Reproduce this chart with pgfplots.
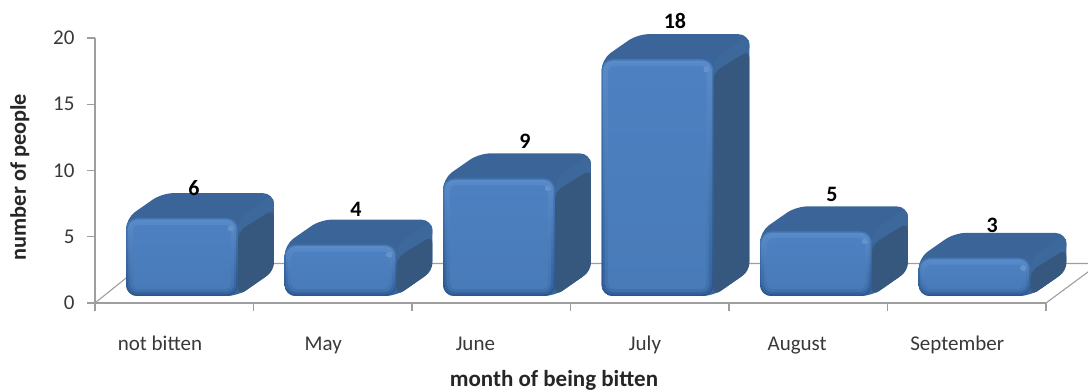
\documentclass[border=0pt]{standalone}
\usepackage{pgfplots}
\usepackage{pgfplotstable}
\usepackage{fontspec}
\setmainfont{Carlito}
\pgfplotsset{compat=1.18}

\definecolor{wallgray}{HTML}{9E9E9E}
\definecolor{topface}{HTML}{3B6599}
\definecolor{sideface}{HTML}{36587F}
\definecolor{edgeband}{HTML}{3C689B}
\definecolor{rimtop}{HTML}{4478B5}
\definecolor{rimlow}{HTML}{2B568D}
\definecolor{glowtop}{HTML}{5A8CC9}
\definecolor{glowlow}{HTML}{33629C}
\definecolor{softtop}{HTML}{5789C7}
\definecolor{softlow}{HTML}{4171AD}
\definecolor{coretop}{HTML}{4C80C0}
\definecolor{corelow}{HTML}{497BB9}
\definecolor{sparkle}{HTML}{6493CC}

% months, bar values and where each value label sits
\pgfplotstableread{
pos v   lx    ly
0   6   0.625 8.68
1   4   1.647 7.09
2   9   2.713 12.23
3   18  3.659 21.28
4   5   4.650 8.23
5   3   5.660 5.89
}\bites

% one rounded rectangle, inset from the front face of a block
\newcommand{\frontlayer}[6]{% left, right, bottom, top, inset in px, options
  \pgfmathsetmacro{\la}{#1+#5/158.5}
  \pgfmathsetmacro{\lb}{#2-#5/158.5}
  \pgfmathsetmacro{\lc}{#3+#5/13.25}
  \pgfmathsetmacro{\ld}{#4-#5/13.25}
  \pgfmathsetmacro{\lm}{(\la+\lb)/2}
  \addplot[draw=none,#6] coordinates {(\lm,\lc) (\lb,\lc) (\lb,\ld) (\la,\ld) (\la,\lc)} -- cycle;
}

% a block of the chart: position and value
\newcommand{\block}[2]{%
  \pgfmathsetmacro{\xa}{#1+0.196}
  \pgfmathsetmacro{\xb}{#1+0.902}
  \pgfmathsetmacro{\ya}{0.53}
  \pgfmathsetmacro{\yb}{#2+0.4}
  \pgfmathsetmacro{\xc}{\xa+0.227}
  \pgfmathsetmacro{\xd}{\xb+0.227}
  \pgfmathsetmacro{\yc}{\ya+1.89}
  \pgfmathsetmacro{\yd}{\yb+1.89}
  \pgfmathsetmacro{\bandfront}{\yb-1.5}
  \pgfmathsetmacro{\bandback}{\yd-1.7}
  \pgfmathsetmacro{\sidefront}{\yb-1.0}
  \pgfmathsetmacro{\sideback}{\yd-1.2}
  \pgfmathsetmacro{\hx}{\xb-0.045}
  \pgfmathsetmacro{\hy}{\yb-0.75}
  % outline of the top and right faces
  \addplot[draw=none,fill=topface,rounded corners=11pt] coordinates
    {(\xa,\yb) (\xc,\yd) (\xd,\yd) (\xd,\yc) (\xb,\ya) (\xa,\ya)} -- cycle;
  % right face, with a lighter band along its upper edge
  \addplot[draw=none,fill=edgeband,rounded corners=10pt] coordinates
    {(\xb,\yb) (\xd,\yd) (\xd,\bandback) (\xb,\bandfront)} -- cycle;
  \addplot[draw=none,fill=sideface,rounded corners=8pt] coordinates
    {(\xb,\sidefront) (\xd,\sideback) (\xd,\yc) (\xb,\ya)} -- cycle;
  % front face, built up from its edge towards the centre
  \frontlayer{\xa}{\xb}{\ya}{\yb}{0}{top color=rimtop,bottom color=rimlow,rounded corners=11pt}
  \frontlayer{\xa}{\xb}{\ya}{\yb}{1.5}{top color=glowtop,bottom color=glowlow,rounded corners=10pt}
  \frontlayer{\xa}{\xb}{\ya}{\yb}{4}{top color=softtop,bottom color=softlow,rounded corners=8pt}
  \frontlayer{\xa}{\xb}{\ya}{\yb}{7}{top color=coretop,bottom color=corelow,rounded corners=5pt}
  % small highlight at the upper right corner
  \addplot[only marks,mark=*,mark size=2.5pt,mark options={draw=sparkle,fill=sparkle,line width=0pt}] coordinates {(\hx,\hy)};
}

\begin{document}
\begin{tikzpicture}[x=1pt,y=1pt]
\useasboundingbox (0,0) rectangle (1088,391);
\begin{axis}[
  at={(95pt,88pt)},anchor=south west,
  scale only axis,width=951pt,height=265pt,
  xmin=0,xmax=6,ymin=0,ymax=20,
  axis x line=bottom,axis y line=left,
  axis line style={wallgray,line width=1.3pt,-},
  clip=false,
  tick align=outside,
  major tick length=8pt,
  every tick/.style={wallgray,line width=1.1pt},
  ytick={0,5,10,15,20},
  minor y tick num=0,
  xtick={0,1,2,3,4,5,6},
  xticklabels={},
  extra x ticks={0.41,1.44,2.40,3.47,4.43,5.44},
  extra x tick labels={not bitten,May,June,July,August,September},
  extra x tick style={major tick length=0pt,xticklabel style={yshift=-32pt,text height=15pt,text depth=4pt,inner sep=0pt}},
  tick label style={font=\fontsize{21}{23}\selectfont,text=black!78},
  yticklabel style={xshift=-9pt},
  /pgf/number format/assume math mode=true,
  xlabel={month of being bitten},
  ylabel={number of people},
  every axis x label/.style={at={(axis description cs:0.4826,-0.291)},anchor=center,text=black!85,font=\fontsize{23}{25}\selectfont\bfseries},
  every axis y label/.style={at={(axis description cs:-0.079,0.475)},anchor=center,rotate=90,text=black!85,font=\fontsize{22.3}{25}\selectfont\bfseries},
]
% floor edges behind the blocks
\addplot[wallgray,line width=1.1pt] coordinates {(0,0) (0.31,2.98) (6.3,2.98)};
\addplot[wallgray,line width=1.1pt] coordinates {(6,0) (6.3,2.65)};

\pgfplotsforeachungrouped \i in {0,1,2,3,4,5}{%
  \pgfplotstablegetelem{\i}{v}\of\bites
  \edef\val{\pgfplotsretval}
  \block{\i}{\val}
}

% value labels
\addplot[draw=none,mark=none,point meta=explicit,
  nodes near coords,
  every node near coord/.style={anchor=center,text=black,inner sep=0pt,
    font=\fontsize{22}{24}\selectfont\bfseries,
    /pgf/number format/assume math mode=true,/pgf/number format/fixed,/pgf/number format/precision=0}]
  table[x=lx,y=ly,meta=v] {\bites};
\end{axis}
\end{tikzpicture}
\end{document}
